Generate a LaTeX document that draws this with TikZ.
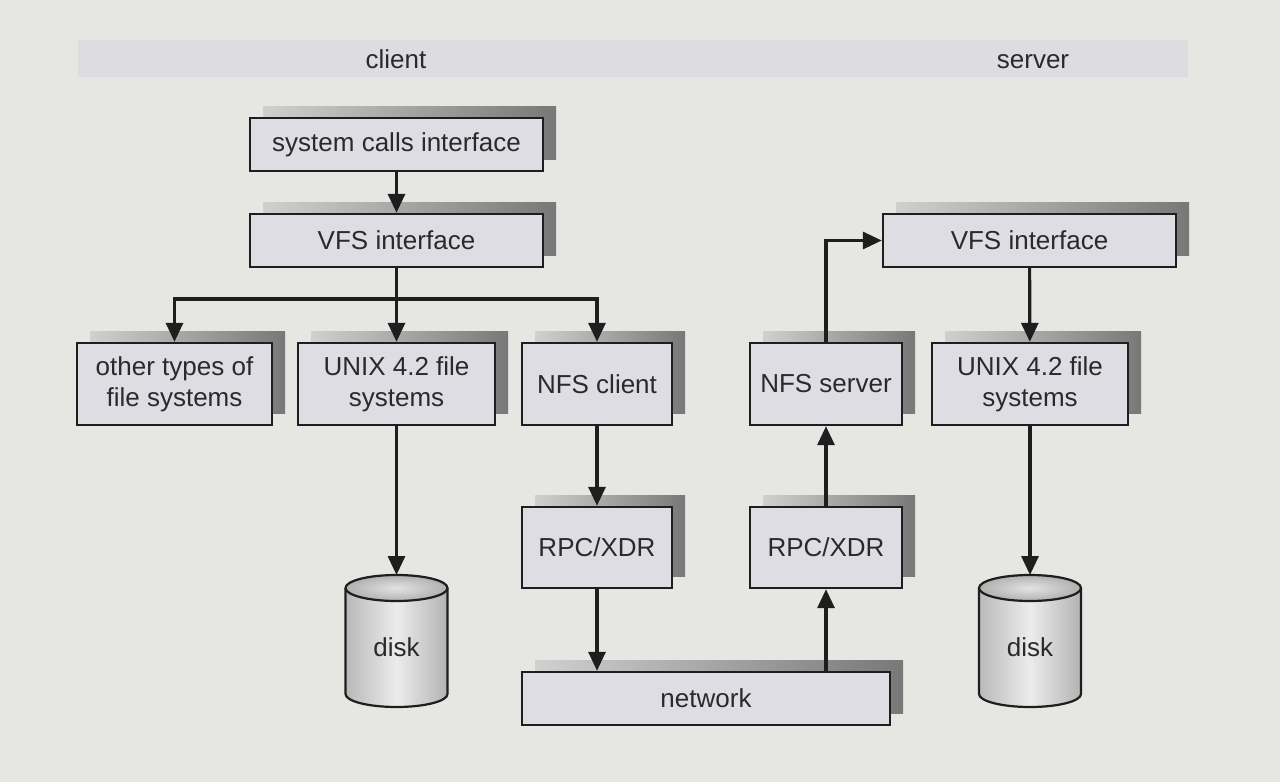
\documentclass[tikz,border=0pt]{standalone}
\usepackage{fontspec}
\setmainfont{Liberation Sans}
\usetikzlibrary{arrows.meta,shadows}
\definecolor{bgc}{HTML}{E6E6E3}
\definecolor{bandc}{HTML}{DCDCE1}
\definecolor{boxc}{HTML}{DEDDE3}
\definecolor{linec}{HTML}{1E1E1E}
\definecolor{txtc}{HTML}{2A2A2A}
\definecolor{shl}{HTML}{D0D0D0}
\definecolor{shr}{HTML}{787878}
\tikzset{
  box/.style={draw=linec, line width=2.4pt, fill=boxc, text=txtc, inner sep=0pt, align=center,
    font=\fontsize{26}{31}\selectfont,
    general shadow={left color=shl, right color=shr, shadow xshift=13pt, shadow yshift=12pt}},
  arr/.style={draw=linec, line width=3.2pt, -{Triangle[length=19pt,width=17pt]}},
  lin/.style={draw=linec, line width=3.2pt},
  lbl/.style={text=txtc, font=\fontsize{26}{31}\selectfont, inner sep=0pt},
  diskbody/.style={left color=gray!55, right color=gray!60, middle color=white!85!gray},
}
\begin{document}
\begin{tikzpicture}[x=1pt,y=-1pt]
\useasboundingbox (0,0) rectangle (1280,782);
\fill[bgc] (0,0) rectangle (1280,782);
% band
\fill[bandc] (78,40) rectangle (1188,77);
\node[lbl, anchor=base] (client) at (396,68) {client};
\node[lbl, anchor=base] (server) at (1033,68) {server};
% boxes
\node[box, minimum width=293pt, minimum height=53pt] (sys) at (396.5,144.5) {system calls interface};
\node[box, minimum width=293pt, minimum height=53pt] (vfsc) at (396.5,240.5) {VFS interface};
\node[box, minimum width=195pt, minimum height=82pt] (other) at (174.5,384) {other types of\\file systems};
\node[box, minimum width=197pt, minimum height=82pt] (unixc) at (396.5,384) {UNIX 4.2 file\\systems};
\node[box, minimum width=150pt, minimum height=82pt] (nfsc) at (597,384) {NFS client};
\node[box, minimum width=152pt, minimum height=82pt] (nfss) at (826,384) {NFS server};
\node[box, minimum width=196pt, minimum height=82pt] (unixs) at (1030,384) {UNIX 4.2 file\\systems};
\node[box, minimum width=293pt, minimum height=53pt] (vfss) at (1029.5,240.5) {VFS interface};
\node[box, minimum width=150pt, minimum height=81pt] (rpcc) at (597,547.5) {RPC/XDR};
\node[box, minimum width=152pt, minimum height=81pt] (rpcs) at (826,547.5) {RPC/XDR};
\node[box, minimum width=368pt, minimum height=53pt] (net) at (706,698.5) {network};
% disks
\foreach \cx/\nm in {396.5/diskc,1030/disks}{
  \fill[diskbody] (\cx-51,588) -- (\cx-51,694) arc[start angle=180,end angle=360,x radius=51pt,y radius=13pt] -- (\cx+51,588) -- cycle;
  \draw[linec, line width=2.2pt] (\cx-51,588) -- (\cx-51,694) arc[start angle=180,end angle=360,x radius=51pt,y radius=13pt] -- (\cx+51,588);
  \draw[linec, line width=2.2pt, inner color=gray!22, outer color=gray!62] (\cx,588) ellipse[x radius=51pt, y radius=13pt];
  \node[lbl, minimum width=102pt, minimum height=132pt, anchor=north] (\nm) at (\cx,575) {};
  \node[lbl] at (\cx,647) {disk};
}
% connectors
\coordinate (br) at (396.5,299);
\draw[arr] (sys) -- (vfsc);
\draw[lin] (vfsc.south) -- (br);
\draw[arr] (br) -| (other.north);
\draw[arr] (br) -| (nfsc.north);
\draw[arr] (br) -- (unixc.north);
\draw[arr] (unixc.south) -- (diskc.north);
\draw[arr] (nfsc) -- (rpcc);
\draw[arr] (rpcc.south) -- (rpcc.south |- net.north);
\draw[arr] (net.north -| rpcs.south) -- (rpcs.south);
\draw[arr] (rpcs) -- (nfss);
\draw[arr] (nfss.north) |- (vfss.west);
\draw[arr] (vfss) -- (unixs);
\draw[arr] (unixs.south) -- (disks.north);
\end{tikzpicture}
\end{document}
